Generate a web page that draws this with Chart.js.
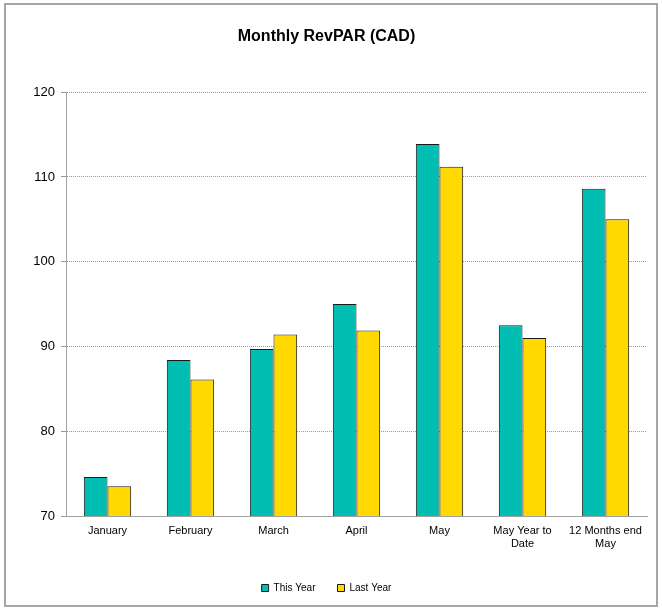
<!DOCTYPE html>
<html>
<head>
<meta charset="utf-8">
<script src="https://cdn.jsdelivr.net/npm/chart.js@4"></script>
<style>
  body { margin: 0; background: #fff; }
  #wrap { position: absolute; left: 4px; top: 3px; width: 650px; height: 600px; border: 2px solid #a6a6a6; }
</style>
</head>
<body>
<div id="wrap"><canvas id="myChart" width="650" height="600"></canvas></div>
<script>
'use strict';

// categories and values
let months = ['January', 'February', 'March', 'April', 'May', ['May Year to', 'Date'], ['12 Months end', 'May']];
let thisYear = [74.6, 88.4, 89.7, 95.0, 113.9, 92.5, 108.6];
let lastYear = [73.5, 86.1, 91.4, 91.9, 111.2, 91.0, 105.0];
let yTicks = [70, 80, 90, 100, 110, 120];

const fontFamily = 'Liberation Sans, Arial';

const data = {
  labels: months,
  datasets: [
    {
      label: 'This Year',
      data: thisYear,
      backgroundColor: '#00bfb2',
      borderColor: '#1a1a1a',
      borderWidth: 1,
      barPercentage: 1,
      categoryPercentage: 0.57
    },
    {
      label: 'Last Year',
      data: lastYear,
      backgroundColor: '#ffd900',
      borderColor: '#1a1a1a',
      borderWidth: 1,
      barPercentage: 1,
      categoryPercentage: 0.57
    }
  ]
};

const config = {
  type: 'bar',
  data: data,
  options: {
    responsive: false,
    animation: false,
    layout: { padding: { left: 0, right: 9, top: 0, bottom: 2 } },
    plugins: {
      title: {
        display: true,
        text: 'Monthly RevPAR (CAD)',
        color: '#000',
        font: { family: fontFamily, size: 16, weight: 'bold' },
        padding: { top: 22, bottom: 46 }
      },
      legend: {
        position: 'bottom',
        labels: {
          color: '#000',
          font: { family: fontFamily, size: 10 },
          boxWidth: 7,
          boxHeight: 7,
          padding: 22
        }
      },
      tooltip: { enabled: false }
    },
    scales: {
      x: {
        grid: { display: false, drawTicks: false },
        border: { color: '#a0a0a0' },
        ticks: {
          color: '#000',
          maxRotation: 0,
          autoSkip: false,
          padding: 8,
          font: { family: fontFamily, size: 11 }
        },
        afterFit: function (scale) { scale.height = 45; }
      },
      y: {
        min: 70,
        max: 120,
        afterBuildTicks: function (scale) {
          scale.ticks = yTicks.map(v => ({ value: v }));
        },
        grid: {
          // no gridline on the baseline, dotted elsewhere
          color: function (ctx) {
            return ctx.tick && ctx.tick.value === 70 ? 'rgba(0,0,0,0)' : '#9a9a9a';
          },
          tickColor: '#9a9a9a',
          tickLength: 5,
          tickBorderDash: []
        },
        border: { color: '#a0a0a0', dash: [1, 1] },
        ticks: {
          color: '#000',
          padding: 6,
          font: { family: fontFamily, size: 13 }
        },
        afterFit: function (scale) { scale.width = 60; }
      }
    }
  }
};

const myChart = new Chart(document.getElementById('myChart'), config);
</script>
</body>
</html>
